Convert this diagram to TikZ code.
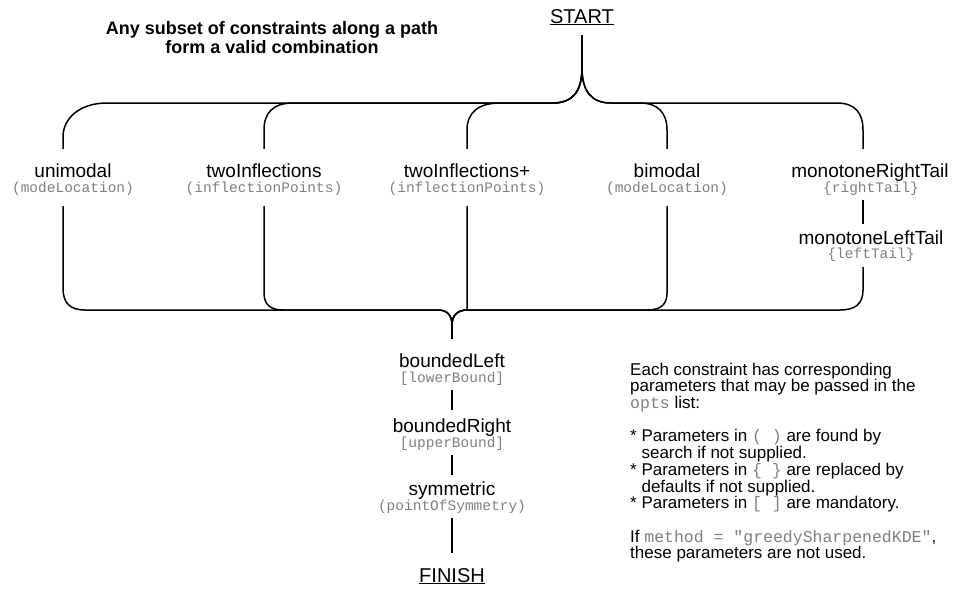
\documentclass[tikz,border=0pt]{standalone}
\usepackage{fontspec}
\setmainfont{Liberation Sans}
\setmonofont{Liberation Mono}
\definecolor{monogray}{gray}{0.5}
\newcommand\legmono{\color{monogray}\fontsize{16.5}{16.7}\selectfont\ttfamily}
\begin{document}
\begin{tikzpicture}[x=1pt,y=-1pt,
 conn/.style={line width=1.5pt, line join=round},
 lab/.style={font=\fontsize{19}{19}\selectfont, inner sep=0pt, text height=14pt, text depth=4pt, anchor=base},
 sub/.style={font=\fontsize{14.5}{15}\selectfont\ttfamily, text=monogray, inner sep=0pt, text height=8pt, text depth=3pt, anchor=base},
 title/.style={font=\bfseries\fontsize{18}{19}\selectfont, align=center, inner sep=0pt, anchor=north},
 legend/.style={font=\fontsize{17}{16.7}\selectfont, align=left, inner sep=0pt, anchor=north west}]
\useasboundingbox (0,0) rectangle (955,592);

% title and terminals
\node[title] (ttl) at (272,21) {Any subset of constraints along a path\\form a valid combination};
\node[lab, font=\fontsize{20}{20}\selectfont] (start) at (582,23) {\underline{START}};
\node[lab, font=\fontsize{20}{20}\selectfont] (fin) at (452,582) {\underline{FINISH}};

% first row
\node[lab] (uni) at (73,177) {unimodal};
\node[sub] (unis) at (73,192) {(modeLocation)};
\node[lab] (twoi) at (264,177) {twoInflections};
\node[sub] (twois) at (264,192) {(inflectionPoints)};
\node[lab] (twop) at (467,177) {twoInflections+};
\node[sub] (twops) at (467,192) {(inflectionPoints)};
\node[lab] (bim) at (667,177) {bimodal};
\node[sub] (bims) at (667,192) {(modeLocation)};
\node[lab] (mrt) at (870,177) {monotoneRightTail};
\node[sub] (mrts) at (871,192) {\{rightTail\}};
\node[lab] (mlt) at (871,244) {monotoneLeftTail};
\node[sub] (mlts) at (871,258) {\{leftTail\}};

% lower chain
\node[lab] (bl) at (452,367) {boundedLeft};
\node[sub] (bls) at (452,382) {[lowerBound]};
\node[lab] (br) at (452,432) {boundedRight};
\node[sub] (brs) at (452,447) {[upperBound]};
\node[lab] (sym) at (452,495) {symmetric};
\node[sub] (syms) at (452,510) {(pointOfSymmetry)};

% split from START
\draw[conn] ([yshift=-8pt]start.south) -- (582,68) .. controls (582,92) and (572,103) .. (553,103) -- (107,103) .. controls (80,103) and (63,118) .. (63,137) -- ([xshift=-10pt,yshift=14pt]uni.north);
\draw[conn] ([yshift=-8pt]start.south) -- (582,68) .. controls (582,92) and (572,103) .. (553,103) -- (293,103) .. controls (273,103) and (264,113) .. (264,130) -- ([yshift=14pt]twoi.north);
\draw[conn] ([yshift=-8pt]start.south) -- (582,68) .. controls (582,92) and (572,103) .. (553,103) -- (500,103) .. controls (478,103) and (467,113) .. (467,130) -- ([yshift=14pt]twop.north);
\draw[conn] ([yshift=-8pt]start.south) -- (582,68) .. controls (582,92) and (592,103) .. (611,103) -- (640,103) .. controls (658,103) and (667,113) .. (667,130) -- ([yshift=14pt]bim.north);
\draw[conn] ([yshift=-8pt]start.south) -- (582,68) .. controls (582,92) and (592,103) .. (611,103) -- (837,103) .. controls (855,103) and (863,113) .. (863,130) -- ([xshift=-7pt,yshift=14pt]mrt.north);

% monotone chain
\draw[conn] ([xshift=-8pt,yshift=-5pt]mrts.south) -- ([xshift=-8pt,yshift=6pt]mlt.north);

% merge into boundedLeft
\draw[conn] ([xshift=-10pt,yshift=-11pt]unis.south) -- (63,288) .. controls (63,303) and (70,310) .. (85,310) -- (438,310) .. controls (447,310) and (452,315) .. (452,325) -- ([yshift=14pt]bl.north);
\draw[conn] ([yshift=-11pt]twois.south) -- (264,293) .. controls (264,305) and (271,310) .. (283,310) -- (438,310) .. controls (447,310) and (452,315) .. (452,325) -- ([yshift=14pt]bl.north);
\draw[conn] ([yshift=-11pt]twops.south) -- (467,310) .. controls (458,310) and (452,315) .. (452,325) -- ([yshift=14pt]bl.north);
\draw[conn] ([yshift=-11pt]bims.south) -- (667,293) .. controls (667,305) and (660,310) .. (647,310) -- (467,310) .. controls (458,310) and (452,315) .. (452,325) -- ([yshift=14pt]bl.north);
\draw[conn] ([xshift=-8pt,yshift=-6pt]mlts.south) -- (863,290) .. controls (863,304) and (855,310) .. (840,310) -- (467,310) .. controls (458,310) and (452,315) .. (452,325) -- ([yshift=14pt]bl.north);

% lower chain connectors
\draw[conn] ([yshift=-5pt]bls.south) -- ([yshift=8pt]br.north);
\draw[conn] ([yshift=-5pt]brs.south) -- ([yshift=6pt]sym.north);
\draw[conn] ([yshift=-5pt]syms.south) -- ([yshift=15pt]fin.north);

% legend
\node[legend] (leg) at (630,362.6) {Each constraint has corresponding\\
parameters that may be passed in the\\
{\legmono opts} list:\\[16.7pt]
* Parameters in {\legmono ( )} are found by\\
\phantom{* }search if not supplied.\\
* Parameters in {\legmono\{ \}} are replaced by\\
\phantom{* }defaults if not supplied.\\
* Parameters in {\legmono[ ]} are mandatory.\\[16.7pt]
If {\legmono method = "greedySharpenedKDE"},\\
these parameters are not used.};
\end{tikzpicture}
\end{document}
